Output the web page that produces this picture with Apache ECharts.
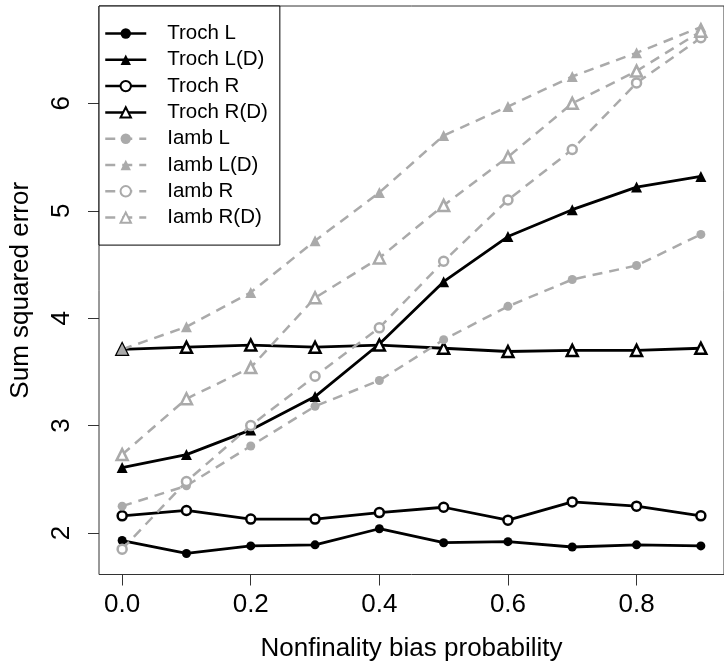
<!DOCTYPE html>
<html>
<head>
<meta charset="utf-8">
<title>Sum squared error</title>
<script src="https://cdn.jsdelivr.net/npm/echarts@6/dist/echarts.min.js"></script>
<style>
  html, body { margin: 0; padding: 0; background: #fff; }
  #chart { width: 724px; height: 669px; }
</style>
</head>
<body>
<div id="chart"></div>
<script>
// x 轴：偏向概率
const probs = [0.0, 0.1, 0.2, 0.3, 0.4, 0.5, 0.6, 0.7, 0.8, 0.9];
const xTicks = [0.0, 0.2, 0.4, 0.6, 0.8];
const yTicks = [2, 3, 4, 5, 6];

// 各条线的数值
const trochL  = [1.93, 1.81, 1.88, 1.89, 2.04, 1.91, 1.92, 1.87, 1.89, 1.88];
const trochLD = [2.61, 2.73, 2.96, 3.27, 3.76, 4.34, 4.76, 5.01, 5.22, 5.32];
const trochR  = [2.16, 2.21, 2.13, 2.13, 2.19, 2.24, 2.12, 2.29, 2.25, 2.16];
const trochRD = [3.71, 3.73, 3.75, 3.73, 3.75, 3.72, 3.69, 3.70, 3.70, 3.72];
const iambL   = [2.25, 2.44, 2.81, 3.18, 3.42, 3.80, 4.11, 4.36, 4.49, 4.78];
const iambLD  = [3.71, 3.92, 4.24, 4.72, 5.17, 5.70, 5.97, 6.25, 6.47, 6.71];
const iambR   = [1.85, 2.48, 3.00, 3.46, 3.91, 4.53, 5.10, 5.57, 6.19, 6.61];
const iambRD  = [2.73, 3.25, 3.54, 4.19, 4.56, 5.05, 5.50, 6.00, 6.30, 6.67];

function sumErr () {
  const font = 'Liberation Sans';
  const black = '#000';
  const gray = '#aaaaaa';

  // 像 R 一样两端各留 4%
  const all = [].concat(trochL, trochLD, trochR, trochRD, iambL, iambLD, iambR, iambRD);
  const yMin = Math.min.apply(null, all);
  const yMax = Math.max.apply(null, all);
  const yPad = (yMax - yMin) * 0.04;
  const xPad = (probs[probs.length - 1] - probs[0]) * 0.04;

  function pairs (vals) {
    return probs.map(function (p, i) { return [p, vals[i]]; });
  }

  function makeSeries (name, vals, symbol, color, dashed, filled) {
    return {
      name: name,
      type: 'line',
      data: pairs(vals),
      symbol: symbol,
      symbolSize: symbol.indexOf('riangle') > -1 ? 11 : 9,
      showAllSymbol: true,
      lineStyle: {
        color: color,
        width: dashed ? 2.5 : 2.8,
        type: dashed ? [10, 7] : 'solid'
      },
      itemStyle: {
        color: filled ? color : '#fff',
        borderColor: color,
        borderWidth: filled ? 0 : 2.5
      },
      emphasis: { disabled: true }
    };
  }

  const myChart = echarts.init(document.getElementById('chart'));
  const option = {
    animation: false,
    backgroundColor: '#fff',
    grid: {
      left: 98,
      top: 6,
      bottom: 94.5,
      right: -8.3,
      show: true,
      borderColor: '#333',
      borderWidth: 1
    },
    legend: {
      orient: 'vertical',
      left: 99,
      top: 6,
      padding: [17, 12, 17, 5],
      itemWidth: 41,
      itemHeight: 13,
      itemGap: 5.3,
      backgroundColor: '#fff',
      borderColor: '#000',
      borderWidth: 1,
      borderRadius: 0,
      lineStyle: { width: 2.5 },
      textStyle: {
        fontFamily: font,
        fontSize: 20.5,
        lineHeight: 20,
        color: '#000',
        padding: [0, 0, 0, 16]
      },
      selectedMode: false
    },
    xAxis: {
      type: 'value',
      min: probs[0] - xPad,
      max: probs[probs.length - 1] + xPad,
      name: 'Nonfinality bias probability',
      nameLocation: 'middle',
      nameGap: 61,
      nameMoveOverlap: false,
      nameTextStyle: { fontFamily: font, fontSize: 26, color: '#000' },
      axisLine: { show: false, onZero: false },
      splitLine: { show: false },
      axisTick: {
        show: true,
        length: 11,
        customValues: xTicks,
        lineStyle: { color: '#333', width: 1 }
      },
      axisLabel: {
        customValues: xTicks,
        margin: 17,
        fontFamily: font,
        fontSize: 26,
        color: '#000',
        formatter: function (v) { return v.toFixed(1); }
      }
    },
    yAxis: {
      type: 'value',
      min: yMin - yPad,
      max: yMax + yPad,
      name: 'Sum squared error',
      nameLocation: 'middle',
      nameGap: 65,
      nameMoveOverlap: false,
      nameTextStyle: { fontFamily: font, fontSize: 26, color: '#000' },
      axisLine: { show: false, onZero: false },
      splitLine: { show: false },
      axisTick: {
        show: true,
        length: 11,
        customValues: yTicks,
        lineStyle: { color: '#333', width: 1 }
      },
      axisLabel: {
        customValues: yTicks,
        rotate: 90,
        margin: 24,
        fontFamily: font,
        fontSize: 26,
        color: '#000'
      }
    },
    series: [
      makeSeries('Troch L', trochL, 'circle', black, false, true),
      makeSeries('Troch L(D)', trochLD, 'triangle', black, false, true),
      makeSeries('Troch R', trochR, 'circle', black, false, false),
      makeSeries('Troch R(D)', trochRD, 'triangle', black, false, false),
      makeSeries('Iamb L', iambL, 'circle', gray, true, true),
      makeSeries('Iamb L(D)', iambLD, 'triangle', gray, true, true),
      makeSeries('Iamb R', iambR, 'circle', gray, true, false),
      makeSeries('Iamb R(D)', iambRD, 'triangle', gray, true, false)
    ]
  };
  myChart.setOption(option);
  window.addEventListener('resize', function () {
    myChart.resize();
  });
}

sumErr();
</script>
</body>
</html>
